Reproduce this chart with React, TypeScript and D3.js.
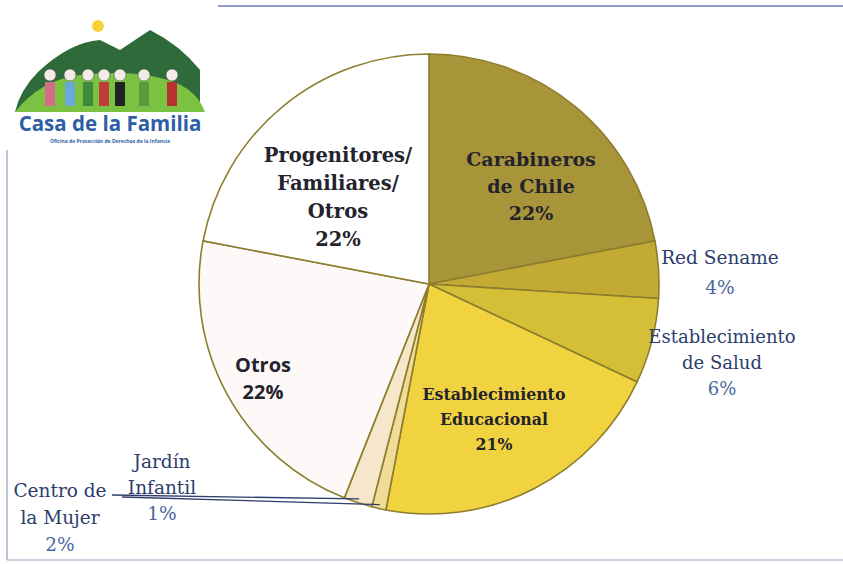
import React, { useEffect, useRef } from 'react';
import * as d3 from 'd3';

// data
const categories = [
  'Carabineros de Chile',
  'Red Sename',
  'Establecimiento de Salud',
  'Establecimiento Educacional',
  'Jardín Infantil',
  'Centro de la Mujer',
  'Otros',
  'Progenitores/ Familiares/ Otros',
];
const values = [22, 4, 6, 21, 1, 2, 22, 22];
const labelLines = [
  ['Carabineros', 'de Chile'],
  ['Red Sename'],
  ['Establecimiento', 'de Salud'],
  ['Establecimiento', 'Educacional'],
  ['Jardín', 'Infantil'],
  ['Centro de', 'la Mujer'],
  ['Otros'],
  ['Progenitores/', 'Familiares/', 'Otros'],
];

const colors = ['#a8953a', '#c2aa34', '#d5bf36', '#f1d23f', '#f0dc96', '#f6e7cb', '#fdf9f8', '#ffffff'];

// label layout (x, first baseline y, line height, font size)
const labelPos = [
  { x: 531, y: 166, lh: 27, size: 19, inside: true },
  { x: 720, y: 264, lh: 30, size: 18.5, inside: false },
  { x: 722, y: 343, lh: 26, size: 18, inside: false },
  { x: 494, y: 400, lh: 25, size: 17.5, inside: true, condensed: true },
  { x: 162, y: 468, lh: 26, size: 18.5, inside: false },
  { x: 60, y: 497, lh: 27, size: 18.5, inside: false },
  { x: 263, y: 372, lh: 27, size: 20, inside: true, sans: true },
  { x: 338, y: 162, lh: 28, size: 19.5, inside: true },
];

const W = 843;
const H = 564;
const cx = 429;
const cy = 284;
const R = 230;

const App = () => {
  const ref = useRef<SVGSVGElement>(null);

  useEffect(() => {
    const svg = d3.select(ref.current);
    svg.selectAll('*').remove();
    svg.attr('width', W).attr('height', H).style('background', '#fff');

    // frame lines
    svg.append('line').attr('x1', 218).attr('x2', W).attr('y1', 6).attr('y2', 6)
      .attr('stroke', '#8f9dd0').attr('stroke-width', 2);
    svg.append('line').attr('x1', 7).attr('x2', 7).attr('y1', 150).attr('y2', 560)
      .attr('stroke', '#aab2cc').attr('stroke-width', 1.5);
    svg.append('line').attr('x1', 7).attr('x2', W).attr('y1', 560).attr('y2', 560)
      .attr('stroke', '#b8bfd6').attr('stroke-width', 1.5);

    // logo (simplified)
    const logo = svg.append('g');
    logo.append('path').attr('d', 'M38,72 Q70,42 100,40 L120,50 L150,30 Q180,45 200,70 L200,112 L15,112 Q20,90 38,72 Z')
      .attr('fill', '#2f6b3a');
    logo.append('path').attr('d', 'M15,112 Q40,80 80,75 Q130,70 160,78 Q195,85 205,112 Z').attr('fill', '#7cc242');
    logo.append('circle').attr('cx', 98).attr('cy', 26).attr('r', 6).attr('fill', '#f6d23a');
    const kids = [[50, '#d66b8a'], [70, '#6aa8d8'], [88, '#3d8a3d'], [104, '#c23b3b'], [120, '#222'], [144, '#5a9a3a'], [172, '#b83030']];
    kids.forEach(([x, c]) => {
      logo.append('circle').attr('cx', x as number).attr('cy', 75).attr('r', 6).attr('fill', '#f3ece6').attr('stroke', '#555').attr('stroke-width', 0.6);
      logo.append('rect').attr('x', (x as number) - 5).attr('y', 82).attr('width', 10).attr('height', 24).attr('fill', c as string);
    });
    logo.append('text').attr('x', 110).attr('y', 131).attr('text-anchor', 'middle')
      .attr('font-family', 'Open Sans, sans-serif').attr('font-weight', 700).attr('font-size', 20.5)
      .attr('fill', '#2e5fa6').text('Casa de la Familia');
    logo.append('text').attr('x', 110).attr('y', 143).attr('text-anchor', 'middle')
      .attr('font-family', 'Open Sans, sans-serif').attr('font-weight', 700).attr('font-size', 5)
      .attr('fill', '#2e5fa6').text('Oficina de Protección de Derechos de la Infancia');

    // pie
    const pie = d3.pie<number>().sort(null).value(d => d);
    const arcs = pie(values);
    const arc = d3.arc<d3.PieArcDatum<number>>().innerRadius(0).outerRadius(R);

    const g = svg.append('g').attr('transform', `translate(${cx},${cy})`);
    g.selectAll('path')
      .data(arcs)
      .join('path')
      .attr('d', arc)
      .attr('fill', (d, i) => colors[i])
      .attr('stroke', '#8d7d2e')
      .attr('stroke-width', 1.6);

    // leader lines for the small slices
    const edgeArc = d3.arc<d3.PieArcDatum<number>>().innerRadius(R - 4).outerRadius(R - 4);
    const jardinPt = edgeArc.centroid(arcs[4]);
    const centroPt = edgeArc.centroid(arcs[5]);
    svg.append('line').attr('x1', 122).attr('y1', 497).attr('x2', cx + jardinPt[0]).attr('y2', cy + jardinPt[1])
      .attr('stroke', '#2c3d6e').attr('stroke-width', 1.3);
    svg.append('line').attr('x1', 112).attr('y1', 495).attr('x2', cx + centroPt[0]).attr('y2', cy + centroPt[1])
      .attr('stroke', '#2c3d6e').attr('stroke-width', 1.3);

    // labels
    categories.forEach((c, i) => {
      const p = labelPos[i];
      const lines = [...labelLines[i], `${values[i]}%`];
      const t = svg.append('text')
        .attr('text-anchor', 'middle')
        .attr('font-family', p.sans ? 'Open Sans, sans-serif' : 'DejaVu Serif, serif')
        .attr('font-stretch', p.condensed ? 'condensed' : 'normal')
        .attr('font-weight', p.inside ? 700 : 400)
        .attr('font-size', p.size)
        .attr('fill', p.inside ? '#23232e' : '#2c3d6e');
      lines.forEach((l, k) => {
        t.append('tspan').attr('x', p.x).attr('y', p.y + k * p.lh)
          .attr('fill', !p.inside && k === lines.length - 1 ? '#4a66a0' : null)
          .text(l);
      });
    });
  }, []);

  return (
    <div style={{ position: 'absolute', left: 0, top: 0 }}>
      <svg ref={ref}></svg>
    </div>
  );
};

export default App;
